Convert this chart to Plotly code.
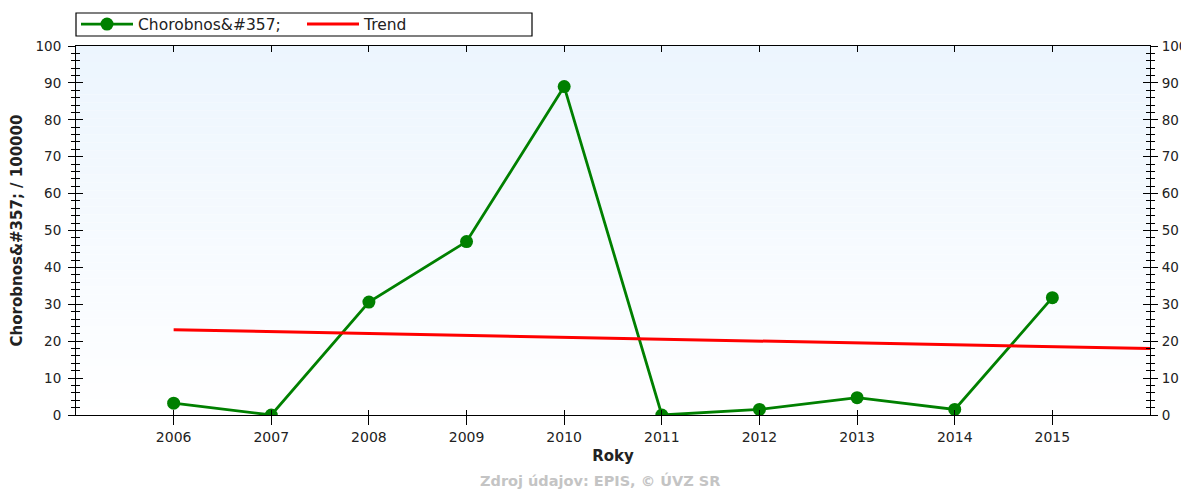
import plotly.graph_objects as go

years = [2006, 2007, 2008, 2009, 2010, 2011, 2012, 2013, 2014, 2015]
morbidity = [3.2, 0.0, 30.6, 47.0, 89.0, 0.0, 1.5, 4.7, 1.5, 31.8]
trend_years = [2006, 2016]
trend_values = [23.1, 18.0]
x_ticks = [2006, 2007, 2008, 2009, 2010, 2011, 2012, 2013, 2014, 2015]
frame_ticks = list(range(2005, 2017))

FONT = "DejaVu Sans, Verdana, sans-serif"
GREEN = "#008000"
RED = "#ff0000"

# page has an 8px body margin; plot area targeted at page x 76..1150, y 46..415
PW, PH = 1074, 369

fig = go.Figure()

# gradient plot background
nb = 46
for i in range(nb):
    t = (i + 0.5) / nb  # 0 bottom -> 1 top
    r = int(round(255 - (255 - 236) * t))
    g = int(round(255 - (255 - 245) * t))
    b = int(round(255 - (255 - 254) * t))
    fig.add_shape(type="rect", xref="x domain", yref="y domain",
                  x0=0, x1=1, y0=i / nb, y1=(i + 1) / nb,
                  fillcolor=f"rgb({r},{g},{b})", line_width=0, layer="below")

# legend frame
fig.add_shape(type="rect", xref="paper", yref="paper",
              x0=0.0, x1=(532 - 76) / PW, y0=(415 - 36) / PH, y1=(415 - 13) / PH,
              line=dict(color="black", width=1.2), fillcolor="white", layer="below")

fig.add_trace(go.Scatter(
    x=years, y=morbidity, mode="lines+markers", name="Chorobnos&amp;#357;",
    line=dict(color=GREEN, width=2.8),
    marker=dict(color=GREEN, size=13, symbol="circle"),
))
fig.add_trace(go.Scatter(
    x=trend_years, y=trend_values, mode="lines", name="Trend",
    line=dict(color=RED, width=3),
))
# invisible helper traces anchoring the frame axes
for xa, ya in [("x", "y2"), ("x2", "y"), ("x3", "y"), ("x", "y3"), ("x", "y4")]:
    fig.add_trace(go.Scatter(x=[2005.5], y=[50], xaxis=xa, yaxis=ya, showlegend=False,
                             mode="markers", marker=dict(opacity=0), hoverinfo="skip"))

xtickfont = dict(family=FONT, size=14, color="#222")
ytickfont = dict(family=FONT, size=13.5, color="#222")
common = dict(showgrid=False, zeroline=False, automargin=False, tickcolor="black",
              linecolor="black", linewidth=1)

fig.update_layout(
    width=1181, height=483,
    margin=dict(l=68, r=39, t=38, b=76, autoexpand=False),
    paper_bgcolor="white",
    plot_bgcolor="rgba(0,0,0,0)",
    showlegend=True,
    legend=dict(orientation="h", x=0.0, y=(415 - 24.5) / PH, xanchor="left", yanchor="middle",
                bgcolor="rgba(0,0,0,0)", borderwidth=0,
                font=dict(family=FONT, size=15.5, color="#222"),
                entrywidth=159, entrywidthmode="pixels", itemwidth=52, traceorder="normal"),
    xaxis=dict(range=[2005, 2016], tickvals=x_ticks, ticks="outside", ticklen=9,
               showline=True, tickfont=xtickfont, **common,
               title=dict(text="<b>Roky</b>", font=dict(family=FONT, size=15, color="#222"),
                          standoff=6)),
    xaxis2=dict(range=[2005, 2016], overlaying="x", side="top", anchor="y",
                tickvals=frame_ticks, ticks="inside", ticklen=6, showline=True,
                showticklabels=False, **common),
    xaxis3=dict(range=[2005, 2016], overlaying="x", side="bottom", anchor="y",
                tickvals=frame_ticks, ticks="inside", ticklen=5, showline=False,
                showticklabels=False, **common),
    yaxis=dict(range=[0, 100], dtick=10, ticks="outside", ticklen=7,
               showline=True, tickfont=ytickfont, ticklabelstandoff=4, **common,
               minor=dict(dtick=2, ticks="outside", ticklen=4, tickcolor="black"),
               title=dict(text="<b>Chorobnos&amp;#357; / 100000</b>",
                          font=dict(family=FONT, size=15, color="#222"), standoff=10)),
    yaxis2=dict(range=[0, 100], dtick=10, overlaying="y", side="right", ticks="outside",
                ticklen=7, showline=True, tickfont=ytickfont, ticklabelstandoff=1, **common,
                minor=dict(dtick=2, ticks="outside", ticklen=4, tickcolor="black")),
    yaxis3=dict(range=[0, 100], dtick=10, overlaying="y", side="left", ticks="inside",
                ticklen=7, showline=False, showticklabels=False, **common,
                minor=dict(dtick=2, ticks="inside", ticklen=4, tickcolor="black")),
    yaxis4=dict(range=[0, 100], dtick=10, overlaying="y", side="right", ticks="inside",
                ticklen=7, showline=False, showticklabels=False, **common,
                minor=dict(dtick=2, ticks="inside", ticklen=4, tickcolor="black")),
    annotations=[dict(text="<b>Zdroj údajov: EPIS, © ÚVZ SR</b>", xref="paper", yref="paper",
                      x=(600 - 76) / PW, y=(415 - 470) / PH, xanchor="center", yanchor="top",
                      showarrow=False,
                      font=dict(family=FONT, size=14.5, color="#c4c4c4"))],
)

fig.write_html("out.html")
